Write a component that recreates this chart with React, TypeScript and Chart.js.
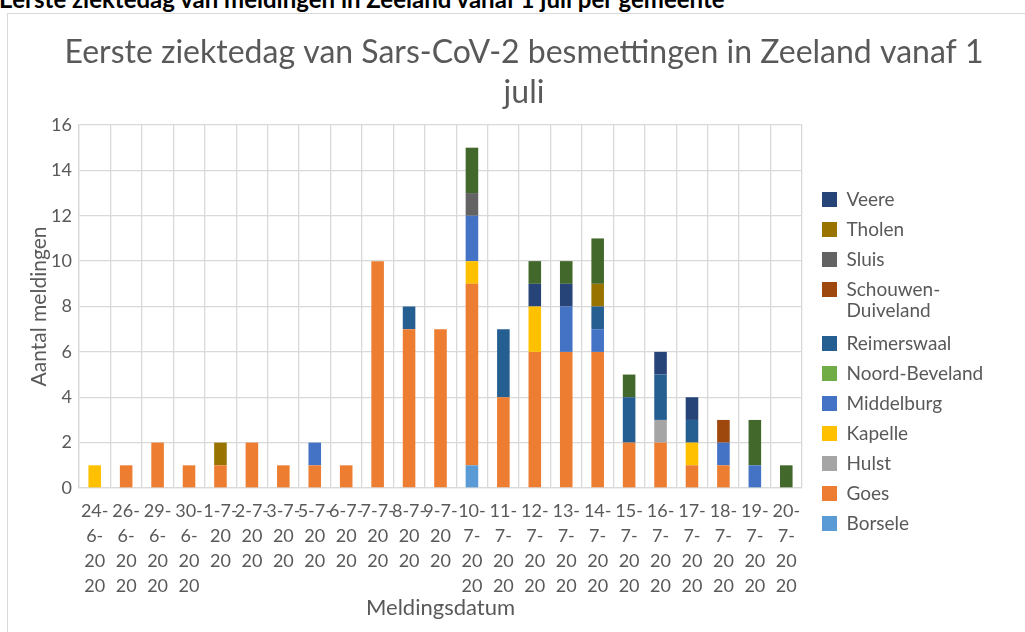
import React, { useEffect, useRef } from "react";
import { Chart, registerables } from "chart.js";

Chart.register(...registerables);

const FONT = 'Lato, "Open Sans", sans-serif';
const TEXT = "#595959";
const GRID = "#D9D9D9";

const pageHeading = "Eerste ziektedag van meldingen in Zeeland vanaf 1 juli per gemeente";
const chartTitle = ["Eerste ziektedag van Sars-CoV-2 besmettingen in Zeeland vanaf 1", "juli"];
const yTitle = "Aantal meldingen";
const xTitle = "Meldingsdatum";

const categories = [
  "24-6-2020", "26-6-2020", "29-6-2020", "30-6-2020", "1-7-2020", "2-7-2020", "3-7-2020",
  "5-7-2020", "6-7-2020", "7-7-2020", "8-7-2020", "9-7-2020", "10-7-2020", "11-7-2020",
  "12-7-2020", "13-7-2020", "14-7-2020", "15-7-2020", "16-7-2020", "17-7-2020", "18-7-2020",
  "19-7-2020", "20-7-2020",
];

const tickLabels = [
  ["24-", "6-", "20", "20"], ["26-", "6-", "20", "20"], ["29-", "6-", "20", "20"], ["30-", "6-", "20", "20"],
  ["1-7-", "20", "20"], ["2-7-", "20", "20"], ["3-7-", "20", "20"], ["5-7-", "20", "20"],
  ["6-7-", "20", "20"], ["7-7-", "20", "20"], ["8-7-", "20", "20"], ["9-7-", "20", "20"],
  ["10-", "7-", "20", "20"], ["11-", "7-", "20", "20"], ["12-", "7-", "20", "20"], ["13-", "7-", "20", "20"],
  ["14-", "7-", "20", "20"], ["15-", "7-", "20", "20"], ["16-", "7-", "20", "20"], ["17-", "7-", "20", "20"],
  ["18-", "7-", "20", "20"], ["19-", "7-", "20", "20"], ["20-", "7-", "20", "20"],
];

const yTicks = [0, 2, 4, 6, 8, 10, 12, 14, 16];

// series, bottom of the stack first
const borsele = [0, 0, 0, 0, 0, 0, 0, 0, 0, 0, 0, 0, 1, 0, 0, 0, 0, 0, 0, 0, 0, 0, 0];
const goes = [0, 1, 2, 1, 1, 2, 1, 1, 1, 10, 7, 7, 8, 4, 6, 6, 6, 2, 2, 1, 1, 0, 0];
const hulst = [0, 0, 0, 0, 0, 0, 0, 0, 0, 0, 0, 0, 0, 0, 0, 0, 0, 0, 1, 0, 0, 0, 0];
const kapelle = [1, 0, 0, 0, 0, 0, 0, 0, 0, 0, 0, 0, 1, 0, 2, 0, 0, 0, 0, 1, 0, 0, 0];
const middelburg = [0, 0, 0, 0, 0, 0, 0, 1, 0, 0, 0, 0, 2, 0, 0, 2, 1, 0, 0, 0, 1, 1, 0];
const noordBeveland = [0, 0, 0, 0, 0, 0, 0, 0, 0, 0, 0, 0, 0, 0, 0, 0, 0, 0, 0, 0, 0, 0, 0];
const reimerswaal = [0, 0, 0, 0, 0, 0, 0, 0, 0, 0, 1, 0, 0, 3, 0, 0, 1, 2, 2, 1, 0, 0, 0];
const schouwenDuiveland = [0, 0, 0, 0, 0, 0, 0, 0, 0, 0, 0, 0, 0, 0, 0, 0, 0, 0, 0, 0, 1, 0, 0];
const sluis = [0, 0, 0, 0, 0, 0, 0, 0, 0, 0, 0, 0, 1, 0, 0, 0, 0, 0, 0, 0, 0, 0, 0];
const tholen = [0, 0, 0, 0, 1, 0, 0, 0, 0, 0, 0, 0, 0, 0, 0, 0, 1, 0, 0, 0, 0, 0, 0];
const veere = [0, 0, 0, 0, 0, 0, 0, 0, 0, 0, 0, 0, 0, 0, 1, 1, 0, 0, 1, 1, 0, 0, 0];
const vlissingen = [0, 0, 0, 0, 0, 0, 0, 0, 0, 0, 0, 0, 2, 0, 1, 1, 2, 1, 0, 0, 0, 2, 1];

const seriesNames = [
  "Borsele", "Goes", "Hulst", "Kapelle", "Middelburg", "Noord-Beveland", "Reimerswaal",
  "Schouwen-Duiveland", "Sluis", "Tholen", "Veere", "Vlissingen",
];
const seriesValues = [
  borsele, goes, hulst, kapelle, middelburg, noordBeveland, reimerswaal,
  schouwenDuiveland, sluis, tholen, veere, vlissingen,
];
const seriesColors = [
  "#5B9BD5", "#ED7D31", "#A5A5A5", "#FFC000", "#4472C4", "#70AD47", "#255E91",
  "#9E480E", "#636363", "#997300", "#264478", "#43682B",
];
const hiddenInLegend = ["Vlissingen"];
const legendLines: Record<string, string[]> = { "Schouwen-Duiveland": ["Schouwen-", "Duiveland"] };

const CANVAS_W = 1032;
const CANVAS_H = 695;

export default function App() {
  const ref = useRef<HTMLCanvasElement | null>(null);

  useEffect(() => {
    if (!ref.current) return;
    const chart = new Chart(ref.current, {
      type: "bar",
      data: {
        labels: tickLabels,
        datasets: seriesNames.map((name, i) => ({
          label: name,
          data: seriesValues[i],
          backgroundColor: seriesColors[i],
          borderWidth: 0,
          barPercentage: 0.4,
          categoryPercentage: 1,
          xAxisID: "x",
          yAxisID: "y",
        })),
      },
      options: {
        animation: false,
        responsive: false,
        maintainAspectRatio: false,
        layout: { padding: 0 },
        events: [],
        plugins: {
          tooltip: { enabled: false },
          title: {
            display: true,
            text: chartTitle,
            color: TEXT,
            font: { family: FONT, size: 32, weight: "normal", lineHeight: 40 / 32 },
            padding: { top: 19, bottom: 12 },
          },
          legend: {
            position: "right",
            align: "center",
            reverse: true,
            maxWidth: 320,
            labels: {
              boxWidth: 15,
              boxHeight: 15,
              padding: 11,
              color: TEXT,
              font: { family: FONT, size: 19, lineHeight: 1.13 },
              generateLabels: (c: any) => {
                const items = Chart.defaults.plugins.legend.labels.generateLabels(c);
                return items
                  .filter((it: any) => !hiddenInLegend.includes(it.text))
                  .map((it: any) => (legendLines[it.text] ? { ...it, text: legendLines[it.text] } : it));
              },
            },
          },
        },
        scales: {
          x: {
            type: "category",
            stacked: true,
            offset: true,
            grid: { display: true, offset: true, color: GRID, lineWidth: 1.3, drawTicks: false },
            border: { display: true, color: GRID, width: 1.3 },
            ticks: {
              autoSkip: false,
              maxRotation: 0,
              minRotation: 0,
              padding: 11,
              color: TEXT,
              font: { family: FONT, size: 18, lineHeight: 25 / 18 },
            },
            title: {
              display: true,
              text: xTitle,
              color: TEXT,
              font: { family: FONT, size: 22, lineHeight: 1.2 },
              padding: { top: 0, bottom: 88 },
            },
            afterFit: (s: any) => {
              s.height = CANVAS_H - 474;
            },
          },
          y: {
            type: "linear",
            stacked: true,
            min: 0,
            max: 16,
            afterBuildTicks: (s: any) => {
              s.ticks = yTicks.map((v) => ({ value: v }));
            },
            grid: { color: GRID, lineWidth: 1.3, drawTicks: false },
            border: { display: true, color: GRID, width: 1.3 },
            ticks: {
              padding: 7,
              color: TEXT,
              font: { family: FONT, size: 18 },
            },
            title: {
              display: true,
              text: yTitle,
              color: TEXT,
              font: { family: FONT, size: 21, lineHeight: 1.2 },
              padding: { top: 19, bottom: 0 },
            },
            afterFit: (s: any) => {
              s.width = 71;
            },
          },
          gap: {
            type: "linear",
            position: "right",
            weight: 0,
            display: true,
            grid: { display: false, drawTicks: false },
            border: { display: false },
            ticks: { display: false },
            afterFit: (s: any) => {
              s.width = 9;
            },
          },
          pad: {
            type: "linear",
            position: "right",
            weight: 2000,
            display: true,
            grid: { display: false, drawTicks: false },
            border: { display: false },
            ticks: { display: false },
            afterFit: (s: any) => {
              const lw = s.chart.legend ? s.chart.legend.width : 180;
              s.width = Math.max(0, 229 - lw);
            },
          },
        },
      } as any,
    });
    return () => chart.destroy();
  }, []);

  return (
    <div
      style={{
        position: "fixed",
        left: 0,
        top: 0,
        width: "100vw",
        height: "100vh",
        overflow: "hidden",
        background: "#ffffff",
      }}
    >
      <div
        style={{
          position: "absolute",
          left: -1,
          top: -13,
          fontFamily: FONT,
          fontWeight: "bold",
          fontSize: 24,
          lineHeight: "24px",
          whiteSpace: "nowrap",
          color: "#000000",
        }}
      >
        {pageHeading}
      </div>
      <div
        style={{
          position: "absolute",
          left: 7,
          top: 13,
          width: 1100,
          height: 700,
          border: `1px solid ${GRID}`,
          background: "#ffffff",
        }}
      >
        <canvas
          ref={ref}
          width={CANVAS_W}
          height={CANVAS_H}
          style={{ position: "absolute", left: 0, top: 0, width: CANVAS_W, height: CANVAS_H }}
        />
      </div>
    </div>
  );
}
